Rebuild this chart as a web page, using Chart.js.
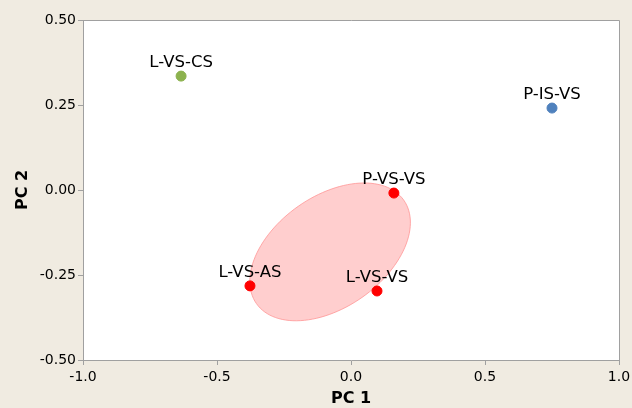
<!DOCTYPE html>
<html>
<head>
<meta charset="utf-8">
<script src="https://cdn.jsdelivr.net/npm/chart.js@4"></script>
<style>
  html, body { margin: 0; padding: 0; background: #F0EBE1; }
  #wrap { width: 632px; height: 408px; }
</style>
</head>
<body>
<div id="wrap"><canvas id="pca"></canvas></div>
<script>
// samples and their scores
const names = ['L-VS-CS', 'P-IS-VS', 'P-VS-VS', 'L-VS-AS', 'L-VS-VS'];
const pc1 = [-0.634, 0.75, 0.16, -0.377, 0.097];
const pc2 = [0.335, 0.241, -0.009, -0.282, -0.297];
const groupColors = ['#8CB24E', '#4F81BD', '#FF0000', '#FF0000', '#FF0000'];

// confidence ellipse: centre and half axes, in data units
const ellipseCenter = [-0.078, -0.182];
const ellipseAxisU = [0.275, 0.152];
const ellipseAxisV = [0.119, -0.134];

const xTicks = [-1.0, -0.5, 0.0, 0.5, 1.0];
const yTicks = [-0.50, -0.25, 0.00, 0.25, 0.50];

const points = names.map((n, i) => ({ x: pc1[i], y: pc2[i] }));

const fontFam = '"DejaVu Sans", Verdana, sans-serif';

const panelPlugin = {
  id: 'panel',
  beforeDraw(chart) {
    const c = chart.ctx, a = chart.chartArea;
    c.save();
    c.fillStyle = '#F0EBE1';
    c.fillRect(0, 0, chart.width, chart.height);
    c.fillStyle = '#FFFFFF';
    c.fillRect(a.left, a.top, a.right - a.left, a.bottom - a.top);
    c.restore();
  },
  afterDraw(chart) {
    const c = chart.ctx, a = chart.chartArea;
    c.save();
    c.strokeStyle = '#A0A0A0';
    c.lineWidth = 1;
    c.beginPath();
    c.moveTo(a.left, a.top + 0.5);
    c.lineTo(a.right + 0.5, a.top + 0.5);
    c.lineTo(a.right + 0.5, a.bottom);
    c.stroke();
    c.restore();
  }
};

const ellipsePlugin = {
  id: 'ellipse',
  beforeDatasetsDraw(chart) {
    const c = chart.ctx, xs = chart.scales.x, ys = chart.scales.y;
    c.save();
    c.beginPath();
    for (let k = 0; k <= 120; k++) {
      const t = k / 120 * Math.PI * 2;
      const dx = ellipseCenter[0] + ellipseAxisU[0] * Math.cos(t) + ellipseAxisV[0] * Math.sin(t);
      const dy = ellipseCenter[1] + ellipseAxisU[1] * Math.cos(t) + ellipseAxisV[1] * Math.sin(t);
      const px = xs.getPixelForValue(dx), py = ys.getPixelForValue(dy);
      if (k === 0) c.moveTo(px, py); else c.lineTo(px, py);
    }
    c.closePath();
    c.fillStyle = 'rgba(255, 180, 180, 0.65)';
    c.fill();
    c.strokeStyle = 'rgba(255, 150, 150, 0.8)';
    c.lineWidth = 1;
    c.stroke();
    c.restore();
  }
};

const labelPlugin = {
  id: 'pointLabels',
  afterDatasetsDraw(chart) {
    const c = chart.ctx;
    const meta = chart.getDatasetMeta(0);
    c.save();
    c.font = '16.5px ' + fontFam;
    c.fillStyle = '#000000';
    c.textAlign = 'center';
    c.textBaseline = 'alphabetic';
    meta.data.forEach((el, i) => {
      c.fillText(names[i], el.x, el.y - 9);
    });
    c.restore();
  }
};

new Chart(document.getElementById('pca'), {
  type: 'scatter',
  data: {
    datasets: [{
      data: points,
      pointBackgroundColor: groupColors,
      pointBorderColor: groupColors,
      pointRadius: 5,
      pointHoverRadius: 5
    }]
  },
  options: {
    responsive: true,
    maintainAspectRatio: false,
    animation: false,
    layout: { padding: { top: 20, right: 13, left: 0, bottom: 0 } },
    plugins: {
      legend: { display: false },
      tooltip: { enabled: false }
    },
    scales: {
      x: {
        min: -1, max: 1,
        afterBuildTicks(s) { s.ticks = xTicks.map(v => ({ value: v })); },
        afterFit(s) { s.height = 48; s.paddingLeft = 0; s.paddingRight = 0; },
        ticks: {
          color: '#000000',
          font: { family: fontFam, size: 14 },
          padding: 4,
          maxRotation: 0,
          callback: v => Number(v).toFixed(1)
        },
        grid: { drawOnChartArea: false, drawTicks: true, tickLength: 5, color: '#A0A0A0' },
        border: { display: true, color: '#A0A0A0' },
        title: { display: true, text: 'PC 1', color: '#000000', font: { family: fontFam, size: 16, weight: 'bold' }, padding: { top: 1, bottom: 0 } }
      },
      y: {
        min: -0.5, max: 0.5,
        afterBuildTicks(s) { s.ticks = yTicks.map(v => ({ value: v })); },
        afterFit(s) { s.width = 83; s.paddingTop = 0; s.paddingBottom = 0; },
        ticks: {
          color: '#000000',
          font: { family: fontFam, size: 14 },
          padding: 2,
          callback: v => Number(v).toFixed(2)
        },
        grid: { drawOnChartArea: false, drawTicks: true, tickLength: 5, color: '#A0A0A0' },
        border: { display: true, color: '#A0A0A0' },
        title: { display: true, text: 'PC 2', color: '#000000', font: { family: fontFam, size: 16, weight: 'bold' }, padding: { top: 13, bottom: 0 } }
      }
    }
  },
  plugins: [panelPlugin, ellipsePlugin, labelPlugin]
});
</script>
</body>
</html>
